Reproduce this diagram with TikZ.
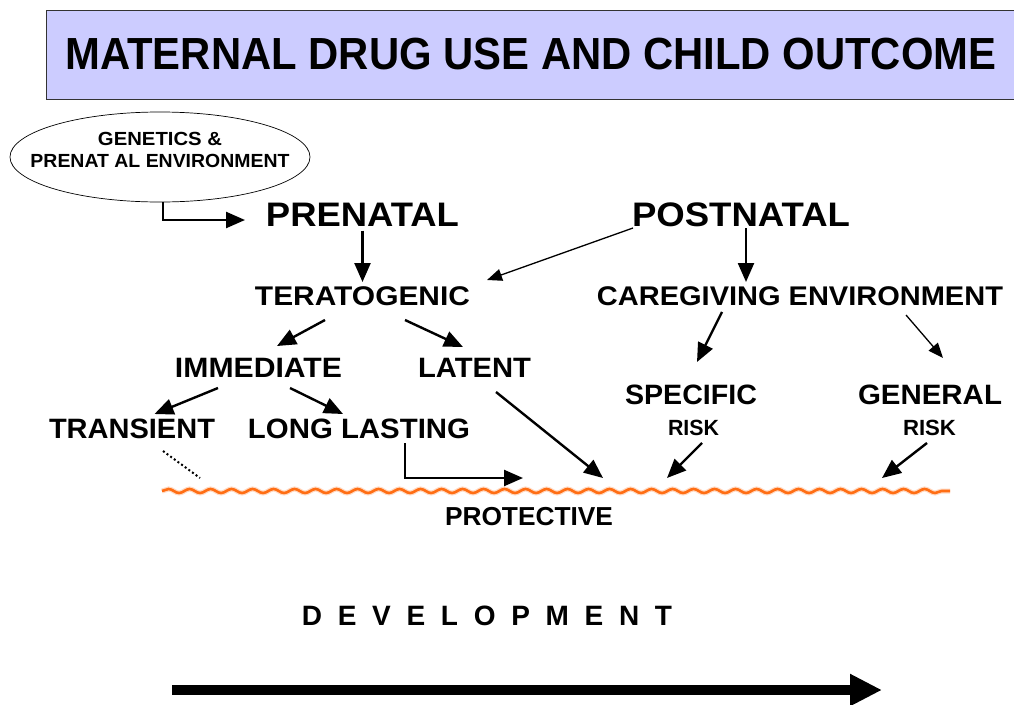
\documentclass[tikz,border=0pt]{standalone}
\usepackage{fontspec}
\setmainfont{Liberation Sans}
\usepackage{graphicx}
\usetikzlibrary{arrows.meta,calc,shapes.geometric,decorations.pathmorphing}

% bold label of a given width (pt) and font size (pt)
\newcommand{\fitw}[3]{\resizebox{#1pt}{\height}{\fontsize{#2}{#2}\selectfont\bfseries #3}}

\definecolor{titlefill}{RGB}{204,204,255}
\definecolor{waveorange}{RGB}{255,110,20}

\begin{document}
\begin{tikzpicture}[x=1pt,y=-1pt,
  lbl/.style={inner sep=0pt,outer sep=0pt},
  arr/.style={line width=2.4pt,-{Triangle[length=19pt,width=16pt]}},
  thinarr/.style={line width=1.3pt,-{Triangle[length=15pt,width=12pt]}},
  wave/.style={decorate,decoration={snake,segment length=21pt,amplitude=2pt}},
  bigarr/.style={line width=10pt,-{Triangle[length=32pt,width=30pt]}}
]
\useasboundingbox (0,0) rectangle (1014,704);
\fill[white] (0,0) rectangle (1014,704);

% title banner
\node[lbl,draw=black!80,line width=0.8pt,fill=titlefill,
      minimum width=970pt,minimum height=89pt] (title) at (531,54.5)
  {\fitw{931}{45}{MATERNAL DRUG USE AND CHILD OUTCOME}};

% origin ellipse
\node[ellipse,draw,line width=0.7pt,inner sep=0pt,
      minimum width=300pt,minimum height=90pt] (gen) at (160,157)
  {\raisebox{1pt}[0pt][0pt]{\makebox[0pt]{\fontsize{19}{22}\selectfont
   \begin{tabular}{@{}c@{}}\fitw{124}{19}{GENETICS \&}\\
   \fitw{259}{19}{PRENAT AL ENVIRONMENT}\end{tabular}}}};

% labels
\node[lbl] (P)  at (362.5,214.5) {\fitw{193}{34}{PRENATAL}};
\node[lbl] (Q)  at (741,214.5)   {\fitw{218}{34}{POSTNATAL}};
\node[lbl] (T)  at (362.5,296)   {\fitw{215}{27}{TERATOGENIC}};
\node[lbl] (C)  at (800,296)     {\fitw{406}{27}{CAREGIVING ENVIRONMENT}};
\node[lbl] (I)  at (258.5,367.5) {\fitw{167}{28}{IMMEDIATE}};
\node[lbl] (L)  at (474.5,367.5) {\fitw{113}{28}{LATENT}};
\node[lbl] (S)  at (691,395)     {\fitw{132}{28}{SPECIFIC}};
\node[lbl] (G)  at (930,395)     {\fitw{144}{28}{GENERAL}};
\node[lbl] (RS) at (693.5,427.5) {\fitw{51}{22}{RISK}};
\node[lbl] (RG) at (929.5,427.5) {\fitw{53}{22}{RISK}};
\node[lbl] (TR) at (132,429)     {\fitw{166}{28}{TRANSIENT}};
\node[lbl] (LL) at (359,429)     {\fitw{222}{28}{LONG LASTING}};
\node[lbl] (PR) at (529,517)     {\fitw{168}{26}{PROTECTIVE}};
\node[lbl] (D)  at (487,616)
  {\fontsize{28}{28}\selectfont\bfseries\spaceskip=15.7pt D E V E L O P M E N T};

% protective boundary, with a soft glow under the wavy stroke
\coordinate (waveL) at (162,491);
\coordinate (waveR) at (950,491);
\draw[wave,line width=5pt,draw=waveorange,draw opacity=0.25] (waveL) -- (waveR);
\draw[wave,line width=2.6pt,draw=waveorange] (waveL) -- (waveR);

% connectors
\draw[arr] ($(gen.south)+(3,0)$) |- ($(P)+(-117.5,5.5)$);
\draw[arr] ($(P)+(0,16)$) -- ($(T)+(0,-14)$);
\draw[thinarr] ($(Q)+(-108,13.5)$) -- ($(T)+(124.5,-16)$);
\draw[arr] ($(Q)+(5,13.5)$) -- ($(C)+(-54,-14)$);
\draw[arr] ($(T)+(-37.5,24)$) -- ($(I)+(18.5,-21.5)$);
\draw[arr] ($(T)+(42.5,24)$) -- ($(L)+(-11.5,-20.5)$);
\draw[arr] ($(C)+(-78,16)$) -- ($(S)+(6,-33)$);
\draw[thinarr] ($(C)+(106,19)$) -- ($(G)+(13,-37)$);
\draw[arr] ($(I)+(-40.5,20.5)$) -- ($(TR)+(22.5,-15)$);
\draw[arr] ($(I)+(31.5,20.5)$) -- ($(LL)+(-16,-15)$);
\draw[arr] ($(L)+(21.5,24.5)$) -- ($(waveL)+(441,-13)$);
\draw[arr] ($(LL)+(46,14)$) |- ($(waveL)+(361,-13)$);
\draw[arr] ($(RS)+(8.5,15.5)$) -- ($(waveL)+(505,-13)$);
\draw[arr] ($(RG)+(-2.5,15.5)$) -- ($(waveL)+(720,-13)$);
\draw[line width=2pt,dash pattern=on 2pt off 2.5pt] ($(TR)+(31,22)$) -- ($(waveL)+(38,-13)$);

% time axis
\coordinate (devL) at (172,690);
\coordinate (devR) at (882,690);
\draw[bigarr] (devL) -- (devR);
\end{tikzpicture}
\end{document}
